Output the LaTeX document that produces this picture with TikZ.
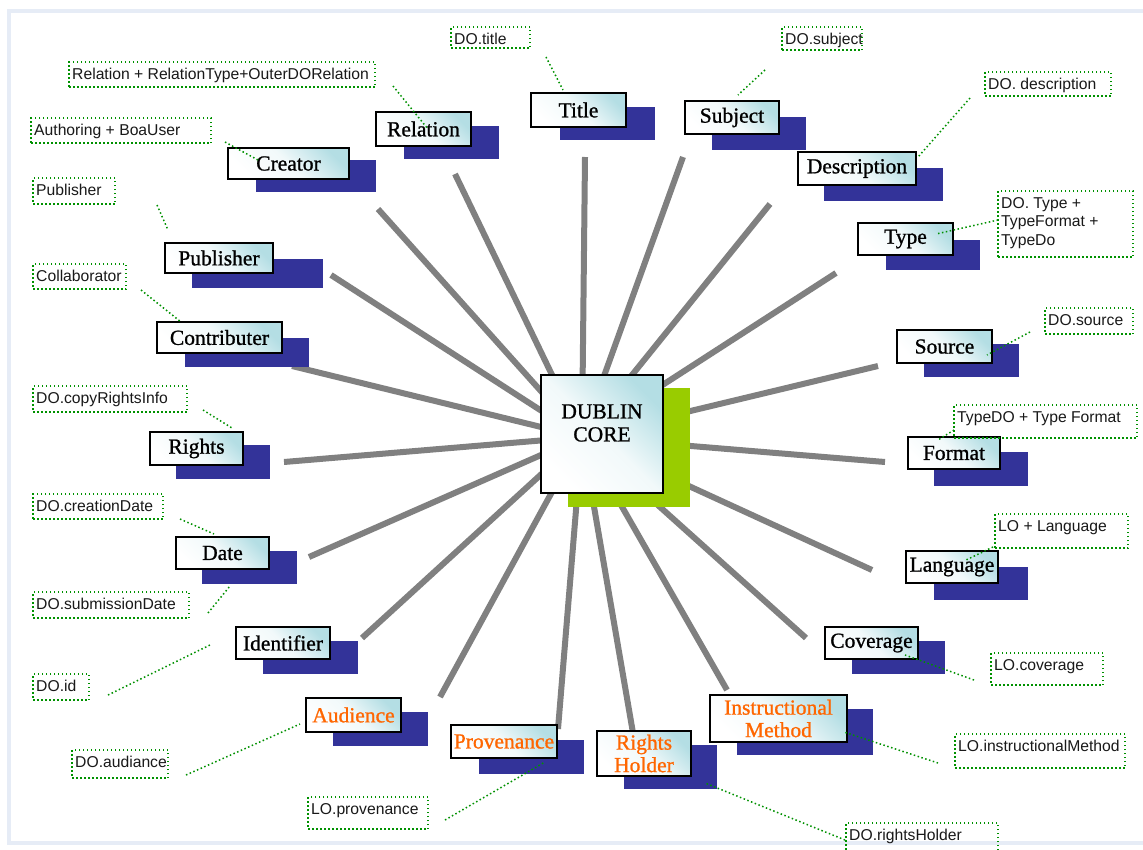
\documentclass[tikz,border=0pt]{standalone}
\usepackage{fontspec}
\setmainfont{Liberation Serif}
\newfontfamily\termfont{Liberation Serif}[FakeBold=1.0]
\newfontfamily\tagfont{Liberation Sans}
\usetikzlibrary{calc}

\definecolor{shadowblue}{RGB}{51,51,153}
\definecolor{corelime}{RGB}{153,204,0}
\definecolor{spokegray}{RGB}{128,128,128}
\definecolor{boxteal}{RGB}{180,222,228}
\definecolor{leadgreen}{RGB}{0,145,0}
\definecolor{frameblue}{RGB}{230,236,246}
\definecolor{termorange}{RGB}{255,102,0}
\definecolor{tagtextgray}{RGB}{25,25,25}

\tikzset{
  spoke/.style={draw=spokegray, line width=6pt},
  backblock/.style={fill=shadowblue, draw=none, inner sep=0pt},
  limeblock/.style={fill=corelime, draw=none, inner sep=0pt},
  termbox/.style={draw=black, line width=2.6pt, top color=boxteal, bottom color=white,
    middle color=white!82!boxteal, shading angle=-45, inner sep=0pt, align=center,
    font=\termfont\fontsize{21.5}{22.5}\selectfont},
  orangeterm/.style={termbox, text=termorange},
  tagbox/.style={draw=leadgreen, line width=1.5pt, dash pattern=on 1.5pt off 2.5pt, inner sep=0pt},
  tagtext/.style={inner sep=0pt, anchor=base west, text=tagtextgray,
    font=\tagfont\fontsize{15.7}{18.5}\selectfont},
  leader/.style={draw=leadgreen, line width=1.5pt, dash pattern=on 1.5pt off 2.5pt},
}

% rectangle node given by its corner pixels: [style]{name}{x1}{y1}{x2}{y2}{text}
\newcommand\rectnode[7][]{%
  \pgfmathsetmacro\boxwd{#5-#3}\pgfmathsetmacro\boxht{#6-#4}%
  \node[#1, minimum width=\boxwd pt, minimum height=\boxht pt] (#2)
    at ({(#3+#5)/2},{(#4+#6)/2}) {#7};}

% dotted tag box with its text: {name}{x1}{y1}{x2}{y2}{text}
\newcommand\tagnode[6]{%
  \rectnode[tagbox]{#1}{#2}{#3}{#4}{#5}{}%
  \node[tagtext] (#1-txt) at ({#2+3},{#3+17}) {#6};}

\begin{document}
\begin{tikzpicture}[x=1pt, y=-1pt]
\useasboundingbox (0,0) rectangle (1143,849);
\fill[white] (0,0) rectangle (1143,849);
\draw[frameblue, line width=4pt] (9,11) rectangle (1170,843);

% hub and spoke ends
\coordinate (hub) at (582,437);
\coordinate (e-relation) at (455,174);
\coordinate (e-title) at (585,157);
\coordinate (e-subject) at (683,157);
\coordinate (e-description) at (770,204);
\coordinate (e-type) at (836,273);
\coordinate (e-source) at (878,366);
\coordinate (e-format) at (885,462);
\coordinate (e-language) at (872,570);
\coordinate (e-coverage) at (806,638);
\coordinate (e-instr) at (727,690);
\coordinate (e-holder) at (633,733);
\coordinate (e-provenance) at (558,729);
\coordinate (e-audience) at (440,697);
\coordinate (e-identifier) at (362,638);
\coordinate (e-date) at (309,557);
\coordinate (e-rights) at (284,462);
\coordinate (e-contrib) at (292,366);
\coordinate (e-publisher) at (331,275);
\coordinate (e-creator) at (378,209);

\foreach \e in {relation,title,subject,description,type,source,format,language,coverage,
  instr,holder,provenance,audience,identifier,date,rights,contrib,publisher,creator}
  \draw[spoke] (hub) -- (e-\e);

% central element
\rectnode[limeblock]{core-back}{568}{388}{690}{507}{}
\rectnode[termbox]{core}{541}{375}{663}{493}{}
\node[align=center, inner sep=0pt, font=\termfont\fontsize{21.5}{23}\selectfont]
  (core-text) at (602,423) {DUBLIN\\CORE};

% back blocks
\rectnode[backblock]{title-back}{560}{107}{655}{140}{}
\rectnode[backblock]{relation-back}{404}{126}{499}{159}{}
\rectnode[backblock]{subject-back}{712}{117}{806}{150}{}
\rectnode[backblock]{creator-back}{256}{160}{376}{192}{}
\rectnode[backblock]{description-back}{824}{168}{943}{201}{}
\rectnode[backblock]{publisher-back}{192}{259}{323}{288}{}
\rectnode[backblock]{type-back}{886}{240}{980}{270}{}
\rectnode[backblock]{contrib-back}{185}{338}{309}{367}{}
\rectnode[backblock]{source-back}{924}{344}{1019}{377}{}
\rectnode[backblock]{rights-back}{176}{445}{270}{479}{}
\rectnode[backblock]{format-back}{934}{452}{1028}{486}{}
\rectnode[backblock]{date-back}{202}{551}{297}{584}{}
\rectnode[backblock]{language-back}{934}{567}{1028}{600}{}
\rectnode[backblock]{identifier-back}{263}{641}{358}{674}{}
\rectnode[backblock]{coverage-back}{852}{641}{945}{674}{}
\rectnode[backblock]{audience-back}{333}{712}{428}{746}{}
\rectnode[backblock]{provenance-back}{479}{740}{584}{774}{}
\rectnode[backblock]{holder-back}{624}{745}{717}{789}{}
\rectnode[backblock]{instr-back}{737}{709}{873}{755}{}

% element boxes
\rectnode[termbox]{title}{531}{93}{626}{127}{Title}
\rectnode[termbox]{relation}{376}{112}{471}{146}{Relation}
\rectnode[termbox]{subject}{685}{101}{779}{134}{Subject}
\rectnode[termbox]{creator}{228}{148}{349}{179}{Creator}
\rectnode[termbox]{description}{798}{152}{916}{185}{Description}
\rectnode[termbox]{publisher}{165}{243}{273}{273}{Publisher}
\rectnode[termbox]{type}{858}{223}{953}{255}{Type}
\rectnode[termbox]{contrib}{157}{322}{282}{353}{Contributer}
\rectnode[termbox]{source}{897}{330}{992}{363}{Source}
\rectnode[termbox]{rights}{150}{432}{243}{465}{Rights}
\rectnode[termbox]{format}{908}{437}{1000}{469}{Format}
\rectnode[termbox]{date}{176}{537}{269}{569}{Date}
\rectnode[termbox]{language}{906}{551}{998}{583}{Language}
\rectnode[termbox]{identifier}{236}{627}{330}{659}{Identifier}
\rectnode[termbox]{coverage}{825}{627}{918}{659}{Coverage}
\rectnode[orangeterm]{audience}{306}{698}{401}{732}{Audience}
\rectnode[orangeterm]{provenance}{451}{725}{557}{758}{Provenance}
\rectnode[orangeterm]{holder}{597}{731}{691}{776}{Rights\\Holder}
\rectnode[orangeterm]{instr}{710}{695}{847}{742}{Instructional\\Method}

% tag boxes
\tagnode{t-title}{451}{27}{530}{48}{DO.title}
\tagnode{t-subject}{782}{27}{862}{50}{DO.subject}
\tagnode{t-relation}{69}{62}{375}{87}{Relation + RelationType+OuterDORelation}
\tagnode{t-description}{985}{72}{1111}{96}{DO. description}
\tagnode{t-creator}{31}{118}{211}{143}{Authoring + BoaUser}
\tagnode{t-publisher}{33}{178}{115}{204}{Publisher}
\tagnode{t-type}{998}{191}{1133}{257}{\parbox[t]{130pt}{\raggedright DO. Type +\\TypeFormat +\\TypeDo}}
\tagnode{t-contrib}{33}{264}{126}{289}{Collaborator}
\tagnode{t-source}{1045}{308}{1133}{334}{DO.source}
\tagnode{t-rights}{33}{386}{187}{412}{DO.copyRightsInfo}
\tagnode{t-format}{954}{405}{1137}{438}{TypeDO + Type Format}
\tagnode{t-created}{33}{494}{163}{519}{DO.creationDate}
\tagnode{t-language}{995}{514}{1128}{548}{LO + Language}
\tagnode{t-submitted}{33}{592}{189}{618}{DO.submissionDate}
\tagnode{t-identifier}{33}{674}{89}{700}{DO.id}
\tagnode{t-coverage}{991}{653}{1103}{685}{LO.coverage}
\tagnode{t-audience}{72}{750}{168}{778}{DO.audiance}
\tagnode{t-instr}{955}{734}{1125}{768}{LO.instructionalMethod}
\tagnode{t-provenance}{308}{797}{428}{829}{LO.provenance}
\tagnode{t-holder}{846}{823}{998}{862}{DO.rightsHolder}

% leader ends
\coordinate (l-title-a) at (546,57);      \coordinate (l-title-b) at (563,90);
\coordinate (l-subject-a) at (765,70);    \coordinate (l-subject-b) at (738,95);
\coordinate (l-relation-a) at (393,86);   \coordinate (l-relation-b) at (428,129);
\coordinate (l-descr-a) at (970,98);      \coordinate (l-descr-b) at (918,157);
\coordinate (l-creator-a) at (225,142);   \coordinate (l-creator-b) at (258,160);
\coordinate (l-publisher-a) at (157,205); \coordinate (l-publisher-b) at (168,230);
\coordinate (l-type-a) at (998,220);      \coordinate (l-type-b) at (936,234);
\coordinate (l-contrib-a) at (141,290);   \coordinate (l-contrib-b) at (181,322);
\coordinate (l-source-a) at (1030,332);   \coordinate (l-source-b) at (987,355);
\coordinate (l-rights-a) at (203,410);    \coordinate (l-rights-b) at (232,428);
\coordinate (l-format-a) at (954,430);    \coordinate (l-format-b) at (938,440);
\coordinate (l-created-a) at (180,519);   \coordinate (l-created-b) at (214,534);
\coordinate (l-language-a) at (993,547);  \coordinate (l-language-b) at (966,560);
\coordinate (l-submitted-a) at (208,613); \coordinate (l-submitted-b) at (230,586);
\coordinate (l-identifier-a) at (108,695);\coordinate (l-identifier-b) at (210,645);
\coordinate (l-coverage-a) at (974,680);  \coordinate (l-coverage-b) at (905,655);
\coordinate (l-audience-a) at (186,775);  \coordinate (l-audience-b) at (300,724);
\coordinate (l-instr-a) at (938,763);     \coordinate (l-instr-b) at (844,732);
\coordinate (l-prov-a) at (445,820);      \coordinate (l-prov-b) at (545,762);
\coordinate (l-holder-a) at (845,840);    \coordinate (l-holder-b) at (705,783);

\foreach \l in {title,subject,relation,descr,creator,publisher,type,contrib,source,rights,
  format,created,language,submitted,identifier,coverage,audience,instr,prov,holder}
  \draw[leader] (l-\l-a) -- (l-\l-b);
\end{tikzpicture}
\end{document}
